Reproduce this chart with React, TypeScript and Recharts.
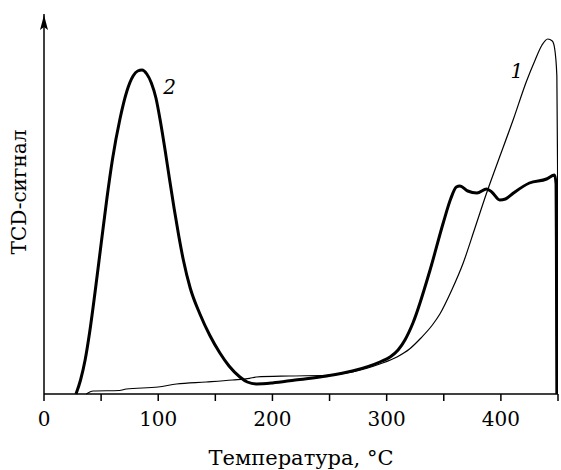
import { LineChart, Line, XAxis, YAxis, ReferenceDot, Label } from "recharts";

// curve 1 (thin)
const temp1 = [37, 43, 66, 72, 100, 116, 142, 165, 180, 186, 215, 247, 270, 294, 309, 320, 330, 340, 346.6, 357, 367, 377, 387.5, 396, 411, 422.5, 430, 436, 441, 445, 447, 449, 449.6, 449.8, 450];
const signal1 = [0, 3, 3.5, 5, 7, 10, 12, 14, 15.7, 17, 18, 18.7, 22, 30, 37, 45, 56, 69, 80, 104, 131, 165, 201, 228, 275, 313, 334, 349, 355, 353, 346, 318, 230, 100, 0];

// curve 2 (thick)
const temp2 = [28, 32, 36, 40, 44.6, 50, 55, 60, 66.5, 72.6, 78, 82, 85.8, 90, 94, 98, 102, 106, 110, 114, 118, 122, 128, 136.5, 145, 154, 162, 171.5, 178, 186, 200, 220, 247.5, 270, 294, 303, 310, 316, 323, 338, 349.5, 356, 361, 364, 371, 379, 387.5, 392, 399, 404, 411, 425, 440, 447, 448.3, 448.6, 448.8, 449];
const signal2 = [0, 14, 34, 62, 101, 150, 195, 235, 275, 303, 318, 323, 324, 320, 311, 296, 272, 244, 214, 185, 158, 134, 106, 80, 59, 41, 28, 17, 12, 10, 11, 14, 18, 23, 32, 37, 44, 54, 71, 124, 171, 195, 207, 208, 203, 201, 205, 202, 194, 195, 201, 211, 215, 219, 210, 150, 60, 0];

const xTicks = [0, 50, 100, 150, 200, 250, 300, 350, 400, 450];

const data1 = temp1.map((t, i) => ({ t, v: signal1[i] }));
const data2 = temp2.map((t, i) => ({ t, v: signal2[i] }));

const font = "'DejaVu Serif', serif";

const XTick = (props: any) => {
  const { x, y, payload } = props;
  if (payload.value % 100 !== 0) return null;
  return (
    <text x={x} y={y} dy={25} textAnchor="middle" fontFamily={font} fontSize={20} fill="#000">
      {payload.value}
    </text>
  );
};

const Arrow = (props: any) => {
  const { cx, cy } = props;
  return (
    <path
      d={`M${cx},${cy + 1} L${cx + 4},${cy + 16} L${cx},${cy + 13} L${cx - 4},${cy + 16} Z`}
      fill="#000"
    />
  );
};

const CurveLabel = (text: string) => (props: any) => (
  <text x={props.cx} y={props.cy} fontFamily={font} fontStyle="italic" fontSize={20} fill="#000" textAnchor="middle">
    {text}
  </text>
);

export default function App() {
  return (
    <div style={{ position: "absolute", left: 0, top: 0, background: "#fff" }}>
      <LineChart width={561} height={470} margin={{ top: 14, right: 3, bottom: 0, left: 0 }}>
        <XAxis
          type="number"
          dataKey="t"
          domain={[0, 450]}
          ticks={xTicks}
          allowDataOverflow
          height={76}
          tickSize={7}
          tickMargin={0}
          axisLine={{ stroke: "#000", strokeWidth: 1.5 }}
          tickLine={{ stroke: "#000", strokeWidth: 1.5 }}
          tick={<XTick />}
        >
          <Label
            content={(p: any) => (
              <text
                x={p.viewBox.x + p.viewBox.width / 2}
                y={p.viewBox.y + 71}
                textAnchor="middle"
                fontFamily={font}
                fontSize={21}
                fill="#000"
              >
                Температура, °С
              </text>
            )}
          />
        </XAxis>
        <YAxis
          type="number"
          domain={[0, 380]}
          width={44}
          tick={false}
          tickLine={false}
          axisLine={{ stroke: "#000", strokeWidth: 1.5 }}
        >
          <Label
            content={(p: any) => {
              const cx = 26;
              const cy = p.viewBox.y + p.viewBox.height / 2 - 12;
              return (
                <text
                  x={cx}
                  y={cy}
                  transform={`rotate(-90 ${cx} ${cy})`}
                  textAnchor="middle"
                  fontFamily={font}
                  fontSize={20}
                  fill="#000"
                >
                  TCD-сигнал
                </text>
              );
            }}
          />
        </YAxis>
        <Line
          data={data1}
          dataKey="v"
          type="monotone"
          stroke="#000"
          strokeWidth={1.2}
          dot={false}
          isAnimationActive={false}
        />
        <Line
          data={data2}
          dataKey="v"
          type="monotone"
          stroke="#000"
          strokeWidth={3}
          dot={false}
          isAnimationActive={false}
        />
        <ReferenceDot x={0} y={380} ifOverflow="visible" shape={<Arrow />} />
        <ReferenceDot x={110} y={300} ifOverflow="visible" shape={CurveLabel("2")} />
        <ReferenceDot x={414} y={316} ifOverflow="visible" shape={CurveLabel("1")} />
      </LineChart>
    </div>
  );
}
